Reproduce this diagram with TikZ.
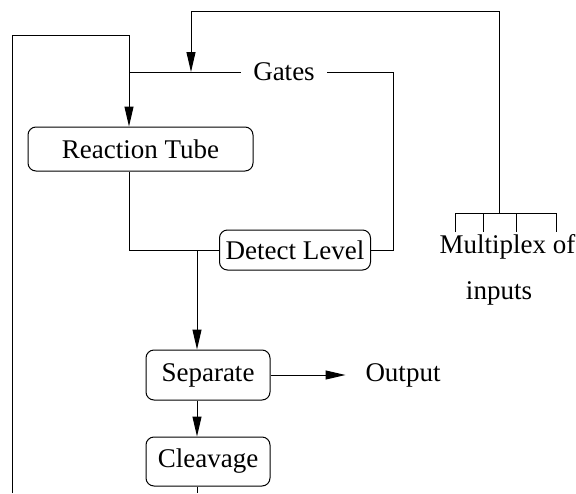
\documentclass[tikz,border=0pt]{standalone}
\usepackage{fontspec}
\setmainfont{Liberation Serif}
\usetikzlibrary{arrows.meta}

\begin{document}
\begin{tikzpicture}[
  x=1pt, y=-1pt, line width=1pt,
  box/.style={draw, rounded corners=8pt, inner sep=0pt,
              font=\fontsize{27}{32}\selectfont},
  lbl/.style={inner sep=0pt, font=\fontsize{27}{32}\selectfont},
  arr/.style={-{Triangle[length=20pt, width=9pt]}},
]
  \useasboundingbox (0,0) rectangle (576,493);

  \node[box, minimum width=225pt, minimum height=44pt] (tube)     at (140.5,149) {Reaction Tube};
  \node[box, minimum width=151pt, minimum height=40pt] (detect)   at (295,250)   {Detect Level};
  \node[box, minimum width=124pt, minimum height=50pt] (separate) at (208,375)   {Separate};
  \node[box, minimum width=124pt, minimum height=49pt] (cleavage) at (208,461.5) {Cleavage};
  \node[lbl, inner xsep=12pt] (gates) at (284,72) {Gates};
  \node[lbl, anchor=west] (output) at (365,375) {Output};
  \node[lbl] (mux)    at (507.5,247) {Multiplex of};
  \node[lbl] (inputs) at (499,293)   {inputs};

  \coordinate (loop) at (12,493);
  \coordinate (feed) at (129,35);
  \coordinate (join) at (129,72);
  \coordinate (turn) at (393,250);
  \coordinate (tap)  at (197,250);
  \coordinate (tail) at (197,493);
  \coordinate (bus)  at (499,213);
  \coordinate (drop) at (191,72);

  % outer loop back into the tube
  \draw[arr] (loop) |- (feed) -- (feed |- tube.north);
  \draw (gates.west) -- (join);
  \draw (gates.east) -| (turn) -- (detect.east);
  \draw (tube.south -| feed) |- (detect.west);

  % main line down
  \draw[arr] (tap) -- (tap |- separate.north);
  \draw[arr] (separate.east) -- ([xshift=-19.5pt]output.west);
  \draw[arr] (separate.south -| tap) -- (cleavage.north -| tap);
  \draw (cleavage.south -| tap) -- (tail);

  % input multiplex
  \draw (455,232) |- (556,213) -- (556,232);
  \foreach \x in {483,516.5}
    \draw (\x,213) -- (\x,232);
  \draw[arr] (bus) |- (drop |- 0,11) -- (drop);
\end{tikzpicture}
\end{document}
